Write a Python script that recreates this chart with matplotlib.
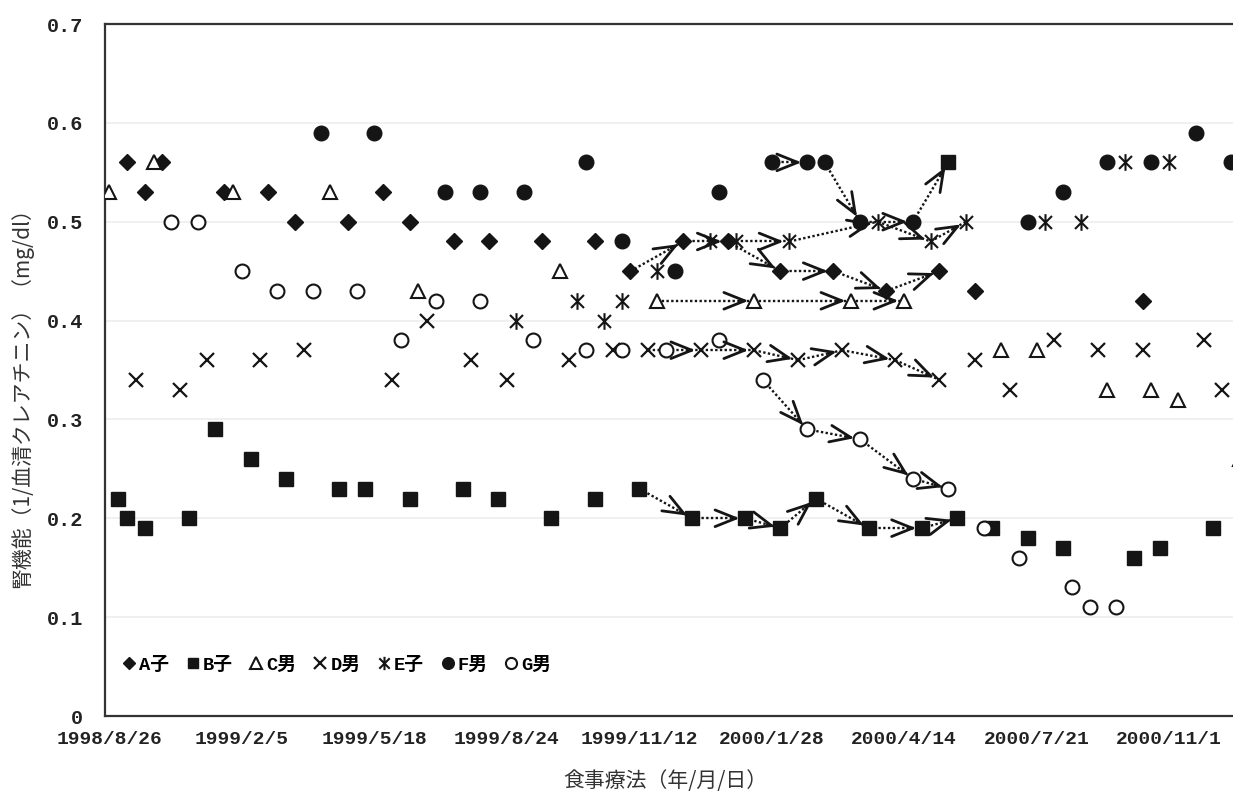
import numpy as np
import matplotlib
matplotlib.use("Agg")
import matplotlib.pyplot as plt
from matplotlib.path import Path

plt.rcParams['font.family'] = ['Liberation Mono', 'Noto Sans CJK JP']

# measurement index (category position on the x axis) and 1/serum creatinine
a_x = [2, 4, 6, 13, 18, 21, 27, 31, 34, 39, 43, 49, 55, 59, 65, 70, 76, 82, 88, 94, 98, 117]
a_y = [0.56, 0.53, 0.56, 0.53, 0.53, 0.50, 0.50, 0.53, 0.50, 0.48, 0.48, 0.48, 0.48,
       0.45, 0.48, 0.48, 0.45, 0.45, 0.43, 0.45, 0.43, 0.42]

b_x = [1, 2, 4, 9, 12, 16, 20, 26, 29, 34, 40, 44, 50, 55, 60, 66, 72, 76, 80, 86,
       92, 95, 96, 100, 104, 108, 116, 119, 125]
b_y = [0.22, 0.20, 0.19, 0.20, 0.29, 0.26, 0.24, 0.23, 0.23, 0.22, 0.23, 0.22, 0.20,
       0.22, 0.23, 0.20, 0.20, 0.19, 0.22, 0.19, 0.19, 0.56, 0.20, 0.19, 0.18, 0.17,
       0.16, 0.17, 0.19]

c_x = [0, 5, 14, 25, 35, 51, 62, 73, 84, 90, 101, 105, 113, 118, 121, 128]
c_y = [0.53, 0.56, 0.53, 0.53, 0.43, 0.45, 0.42, 0.42, 0.42, 0.42, 0.37, 0.37, 0.33,
       0.33, 0.32, 0.26]

d_x = [3, 8, 11, 17, 22, 32, 36, 41, 45, 52, 57, 61, 67, 73, 78, 83, 89, 94, 98,
       102, 107, 112, 117, 124, 126]
d_y = [0.34, 0.33, 0.36, 0.36, 0.37, 0.34, 0.40, 0.36, 0.34, 0.36, 0.37, 0.37, 0.37,
       0.37, 0.36, 0.37, 0.36, 0.34, 0.36, 0.33, 0.38, 0.37, 0.37, 0.38, 0.33]

e_x = [46, 53, 56, 58, 62, 68, 71, 77, 87, 93, 97, 106, 110, 115, 120]
e_y = [0.40, 0.42, 0.40, 0.42, 0.45, 0.48, 0.48, 0.48, 0.50, 0.48, 0.50, 0.50, 0.50,
       0.56, 0.56]

f_x = [24, 30, 38, 42, 47, 54, 58, 64, 69, 75, 79, 81, 85, 91, 104, 108, 113, 118,
       123, 127]
f_y = [0.59, 0.59, 0.53, 0.53, 0.53, 0.56, 0.48, 0.45, 0.53, 0.56, 0.56, 0.56, 0.50,
       0.50, 0.50, 0.53, 0.56, 0.56, 0.59, 0.56]

g_x = [7, 10, 15, 19, 23, 28, 33, 37, 42, 48, 54, 58, 63, 69, 74, 79, 85, 91, 95,
       99, 103, 109, 111, 114]
g_y = [0.50, 0.50, 0.45, 0.43, 0.43, 0.43, 0.38, 0.42, 0.42, 0.38, 0.37, 0.37, 0.37,
       0.38, 0.34, 0.29, 0.28, 0.24, 0.23, 0.19, 0.16, 0.13, 0.11, 0.11]

tick_labels = ['1998/8/26', '1999/2/5', '1999/5/18', '1999/8/24', '1999/11/12',
               '2000/1/28', '2000/4/14', '2000/7/21', '2000/11/1']

# diet-therapy trajectories marked with arrows (chains of x indices per patient)
chains = {
    'A子': [[59, 65, 70, 76, 82, 88, 94]],
    'B子': [[60, 66, 72, 76, 80, 86, 92, 96]],
    'C男': [[62, 73, 84, 90]],
    'D男': [[61, 67, 73, 78, 83, 89, 94]],
    'E子': [[71, 77, 87, 93, 97]],
    'F男': [[75, 79], [81, 85, 91]],
    'G男': [[74, 79, 85, 91, 95]],
}
extra_links = [(('F男', 91), ('B子', 95))]

ink = '#151515'
star = Path([(0, -1), (0, 1), (-0.78, -0.78), (0.78, 0.78), (-0.78, 0.78), (0.78, -0.78)],
            [Path.MOVETO, Path.LINETO] * 3)

series = {
    'A子': (a_x, a_y, dict(marker='D', ms=8, mfc=ink, mec=ink)),
    'B子': (b_x, b_y, dict(marker='s', ms=9.5, mfc=ink, mec=ink)),
    'C男': (c_x, c_y, dict(marker='^', ms=10.5, mfc='white', mec=ink, mew=1.5)),
    'D男': (d_x, d_y, dict(marker='x', ms=10, mec=ink, mew=1.6)),
    'E子': (e_x, e_y, dict(marker=star, ms=12, mec=ink, mew=1.5)),
    'F男': (f_x, f_y, dict(marker='o', ms=10.5, mfc=ink, mec=ink)),
    'G男': (g_x, g_y, dict(marker='o', ms=10, mfc='white', mec=ink, mew=1.5)),
}

fig = plt.figure(figsize=(12.33, 7.91), dpi=100)
W, H = 1233, 791
ax = fig.add_axes([105 / W, (H - 716) / H, 131 * 8.83 / W, (716 - 24) / H])
ax.set_xlim(-0.5, 130.5)
ax.set_ylim(0, 0.7)

for y in np.arange(0.1, 0.7, 0.1):
    ax.axhline(y, color='#eeeeee', lw=1.2, zorder=0)

for name, (xs, ys, style) in series.items():
    ax.plot(xs, ys, linestyle='none', label=name, zorder=3, **style)


def value(name, idx):
    xs, ys, _ = series[name]
    return ys[xs.index(idx)]


links = []
for name, groups in chains.items():
    for chain in groups:
        for s, t in zip(chain[:-1], chain[1:]):
            links.append(((name, s), (name, t)))
links += extra_links

for (n0, i0), (n1, i1) in links:
    x0, y0 = i0, value(n0, i0)
    x1, y1 = i1, value(n1, i1)
    ax.plot([x0, x1], [y0, y1], linestyle=(0, (1, 1)), lw=1.7, color=ink, zorder=2)
    p0 = ax.transData.transform((x0, y0))
    p1 = ax.transData.transform((x1, y1))
    u = (p1 - p0) / np.hypot(*(p1 - p0))
    ax.annotate('', xy=(x1, y1), xytext=(-u[0] * 10, -u[1] * 10), textcoords='offset points',
                arrowprops=dict(arrowstyle='->,head_length=1.5,head_width=0.6', lw=2.0,
                                color=ink, shrinkA=0, shrinkB=4), zorder=4)

ax.set_xticks(np.arange(0, 121, 15))
ax.set_xticklabels(tick_labels)
ax.set_yticks(np.arange(0, 0.71, 0.1))
ax.set_yticklabels(['0', '0.1', '0.2', '0.3', '0.4', '0.5', '0.6', '0.7'])
ax.tick_params(axis='x', length=0, pad=11, labelsize=14, colors='#222222')
ax.tick_params(axis='y', length=0, pad=16, labelsize=14.5, colors='#222222')
for lab in ax.get_xticklabels() + ax.get_yticklabels():
    lab.set_fontweight('bold')

for side in ('left', 'top', 'bottom'):
    ax.spines[side].set_linewidth(1.6)
    ax.spines[side].set_color('#333333')
ax.spines['right'].set_visible(False)

leg = ax.legend(loc='center left', bbox_to_anchor=(112 / W, (H - 665) / H),
                bbox_transform=fig.transFigure, ncol=7, frameon=False,
                handlelength=0.8, handletextpad=0.15, columnspacing=0.85,
                markerscale=0.8, prop=dict(size=13.5, weight='bold'), borderpad=0)

fig.text(22 / W, 1 - 393 / H, '腎機能（1/血清クレアチニン）（mg/dl）', rotation=90,
         ha='center', va='center', fontsize=15, color='#333333',
         family=['Noto Sans CJK JP'])
fig.text(665 / W, 1 - 781 / H, '食事療法（年/月/日）', ha='center', va='center',
         fontsize=15, color='#333333', family=['Noto Sans CJK JP'])

fig.savefig('out.png', dpi=100)
